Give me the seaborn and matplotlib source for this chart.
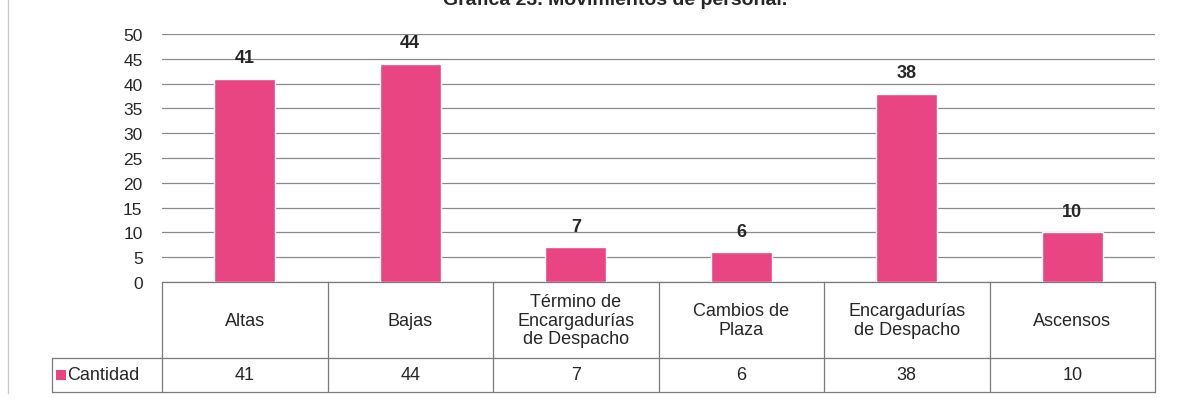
import matplotlib
matplotlib.use('Agg')
import matplotlib.pyplot as plt
import matplotlib.transforms as mtransforms
import pandas as pd
import seaborn as sns

# data
categorias = ['Altas', 'Bajas', 'Término de\nEncargadurías\nde Despacho',
              'Cambios de\nPlaza', 'Encargadurías\nde Despacho', 'Ascensos']
cantidad = [41, 44, 7, 6, 38, 10]
y_ticks = [0, 5, 10, 15, 20, 25, 30, 35, 40, 45, 50]
titulo = 'Gráfica 23. Movimientos de personal.'
serie = 'Cantidad'

color_barra = '#EA4583'

df = pd.DataFrame({'cat': categorias, 'valor': cantidad})

sns.set_style('white')
plt.rcParams['font.family'] = ['Liberation Sans', 'DejaVu Sans']

W, H = 1177, 402
fig = plt.figure(figsize=(W / 100, H / 100), dpi=100)
# plot area in pixels: x 162..1155, y 35..283
ax = fig.add_axes([162 / W, (H - 283) / H, (1155 - 162) / W, (283 - 35) / H])

sns.barplot(data=df, x='cat', y='valor', color=color_barra, width=0.37,
            saturation=1, ax=ax, zorder=3)

ax.set_ylim(0, 50)
ax.set_xlim(-0.5, len(categorias) - 0.5)
ax.set_yticks(y_ticks)
ax.set_yticklabels([str(t) for t in y_ticks], fontsize=12.5)
ax.tick_params(axis='y', length=0, pad=14)
ax.set_xticks([])
ax.set_xlabel('')
ax.set_ylabel('')
ax.yaxis.grid(True, color='#8a8a8a', linewidth=0.9)
ax.set_axisbelow(True)
for s in ['top', 'right', 'left', 'bottom']:
    ax.spines[s].set_visible(False)

for cont in ax.containers:
    ax.bar_label(cont, fontsize=13, fontweight='bold', padding=9)

# data table under the axis
trans = mtransforms.blended_transform_factory(ax.transData, ax.transAxes)
px = 1 / (283 - 35)  # one pixel in axes units (vertical)
top = 0
mid = -76 * px
bot = -110 * px
lc = '#7a7a7a'
lw = 0.9
n = len(categorias)
ax.plot([-0.5, n - 0.5], [top, top], transform=trans, color=lc, lw=lw, clip_on=False)
ax.plot([-0.5, n - 0.5], [mid, mid], transform=trans, color=lc, lw=lw, clip_on=False)
ax.plot([-0.5, n - 0.5], [bot, bot], transform=trans, color=lc, lw=lw, clip_on=False)
for i in range(n + 1):
    ax.plot([i - 0.5, i - 0.5], [top, bot], transform=trans, color=lc, lw=lw, clip_on=False)
for i, (c, v) in enumerate(zip(categorias, cantidad)):
    ax.text(i, (top + mid) / 2, c, transform=trans, ha='center', va='center',
            fontsize=13, linespacing=1.15)
    ax.text(i, (mid + bot) / 2, str(v), transform=trans, ha='center', va='center',
            fontsize=13)

# row label cell with legend key
x_left = 52 / W
x_ax = 162 / W
y_mid = (H - 359) / H
y_bot = (H - 393) / H
fig.add_artist(plt.Line2D([x_left, x_ax], [y_mid, y_mid], color=lc, lw=lw))
fig.add_artist(plt.Line2D([x_left, x_ax], [y_bot, y_bot], color=lc, lw=lw))
fig.add_artist(plt.Line2D([x_left, x_left], [y_mid, y_bot], color=lc, lw=lw))
fig.add_artist(plt.Rectangle((56 / W, (H - 381) / H), 10 / W, 10 / H,
                             facecolor=color_barra, edgecolor='none'))
fig.text(67 / W, (y_mid + y_bot) / 2, serie, ha='left', va='center', fontsize=13)

# chart frame and title (cut at the top edge, as in the scan)
fig.add_artist(plt.Line2D([8 / W, 8 / W], [0.02, 1], color='#c8c8c8', lw=1))
fig.text(615 / W, (H - 5) / H, titulo, ha='center', va='baseline', fontsize=14,
         fontweight='bold')

fig.savefig('out.png', dpi=100)
